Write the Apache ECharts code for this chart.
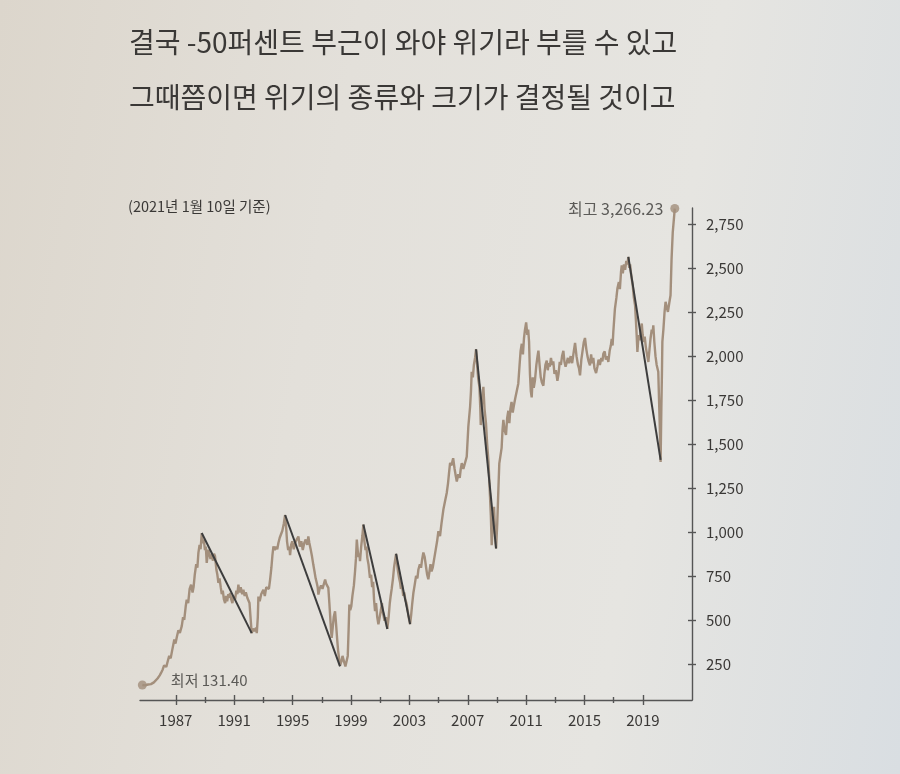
<!DOCTYPE html>
<html>
<head>
<meta charset="utf-8">
<script src="https://cdn.jsdelivr.net/npm/echarts@6/dist/echarts.min.js"></script>
<style>
  html, body { margin: 0; padding: 0; }
  body {
    width: 900px; height: 774px; overflow: hidden;
    background: linear-gradient(100deg, #dcd6cc 0%, #e3e0da 35%, #e6e5e1 70%, #d9dee2 100%);
  }
  #chart { width: 900px; height: 774px; }
</style>
</head>
<body>
<div id="chart"></div>
<script>
// KOSPI as drawn in the picture (decimal year, index value)
const years = [
  1984.71, 1984.9, 1985.1, 1985.3, 1985.5, 1985.6, 1985.75, 1985.9, 1986.0, 1986.1,
  1986.2, 1986.27, 1986.35, 1986.45, 1986.55, 1986.65, 1986.75, 1986.85, 1986.9, 1986.98,
  1987.08, 1987.18, 1987.28, 1987.41, 1987.5, 1987.58, 1987.68, 1987.75, 1987.85, 1987.95,
  1988.05, 1988.15, 1988.22, 1988.3, 1988.4, 1988.48, 1988.55, 1988.63, 1988.7, 1988.78,
  1988.85, 1988.92, 1989.0, 1989.06, 1989.12, 1989.18, 1989.23, 1989.3, 1989.38, 1989.45,
  1989.55, 1989.62, 1989.69, 1989.78, 1989.85, 1989.92, 1990.0, 1990.08, 1990.15, 1990.22,
  1990.3, 1990.38, 1990.45, 1990.52, 1990.6, 1990.65, 1990.72, 1990.8, 1990.88, 1990.95,
  1991.06, 1991.15, 1991.22, 1991.29, 1991.36, 1991.45, 1991.55, 1991.63, 1991.72, 1991.8,
  1991.9, 1991.97, 1992.05, 1992.12, 1992.2, 1992.3, 1992.4, 1992.5, 1992.55, 1992.62,
  1992.66, 1992.75, 1992.85, 1993.0, 1993.1, 1993.2, 1993.3, 1993.38, 1993.46, 1993.55,
  1993.62, 1993.69, 1993.78, 1993.86, 1993.95, 1994.03, 1994.12, 1994.2, 1994.3, 1994.4,
  1994.49, 1994.56, 1994.62, 1994.7, 1994.78, 1994.83, 1994.9, 1994.98, 1995.08, 1995.18,
  1995.28, 1995.4, 1995.5, 1995.6, 1995.7, 1995.8, 1995.9, 1996.0, 1996.08, 1996.15,
  1996.25, 1996.32, 1996.42, 1996.5, 1996.58, 1996.66, 1996.72, 1996.77, 1996.85, 1996.95,
  1997.05, 1997.15, 1997.23, 1997.3, 1997.38, 1997.45, 1997.52, 1997.58, 1997.63, 1997.68,
  1997.75, 1997.82, 1997.91, 1997.98, 1998.05, 1998.12, 1998.18, 1998.25, 1998.35, 1998.42,
  1998.48, 1998.55, 1998.62, 1998.71, 1998.78, 1998.84, 1998.89, 1998.95, 1999.02, 1999.1,
  1999.2, 1999.28, 1999.34, 1999.4, 1999.46, 1999.52, 1999.58, 1999.62, 1999.7, 1999.78,
  1999.85, 1999.92, 2000.0, 2000.06, 2000.12, 2000.2, 2000.3, 2000.38, 2000.45, 2000.52,
  2000.58, 2000.65, 2000.72, 2000.8, 2000.88, 2000.95, 2001.05, 2001.12, 2001.2, 2001.3,
  2001.4, 2001.49, 2001.58, 2001.66, 2001.72, 2001.79, 2001.88, 2001.95, 2002.02, 2002.09,
  2002.15, 2002.22, 2002.3, 2002.36, 2002.42, 2002.5, 2002.58, 2002.65, 2002.72, 2002.8,
  2002.88, 2002.95, 2003.05, 2003.12, 2003.2, 2003.28, 2003.36, 2003.46, 2003.55, 2003.62,
  2003.72, 2003.8, 2003.88, 2003.96, 2004.05, 2004.15, 2004.22, 2004.3, 2004.38, 2004.45,
  2004.52, 2004.6, 2004.7, 2004.8, 2004.9, 2004.99, 2005.1, 2005.2, 2005.33, 2005.45,
  2005.56, 2005.65, 2005.72, 2005.79, 2005.88, 2006.0, 2006.1, 2006.18, 2006.25, 2006.35,
  2006.45, 2006.52, 2006.59, 2006.7, 2006.82, 2006.93, 2007.04, 2007.16, 2007.22, 2007.27,
  2007.35, 2007.42, 2007.5, 2007.57, 2007.64, 2007.72, 2007.8, 2007.86, 2007.89, 2007.95,
  2008.02, 2008.07, 2008.15, 2008.25, 2008.33, 2008.42, 2008.5, 2008.58, 2008.64, 2008.72,
  2008.8, 2008.87, 2008.94, 2009.02, 2009.1, 2009.16, 2009.25, 2009.32, 2009.38, 2009.44,
  2009.52, 2009.62, 2009.7, 2009.78, 2009.85, 2009.92, 2010.0, 2010.08, 2010.16, 2010.25,
  2010.35, 2010.46, 2010.55, 2010.62, 2010.7, 2010.78, 2010.85, 2010.92, 2011.0, 2011.08,
  2011.14, 2011.2, 2011.26, 2011.32, 2011.38, 2011.45, 2011.52, 2011.6, 2011.7, 2011.78,
  2011.84, 2011.92, 2012.0, 2012.08, 2012.18, 2012.25, 2012.32, 2012.41, 2012.48, 2012.55,
  2012.62, 2012.7, 2012.78, 2012.86, 2012.94, 2013.04, 2013.14, 2013.22, 2013.3, 2013.38,
  2013.46, 2013.55, 2013.62, 2013.7, 2013.78, 2013.86, 2013.94, 2014.05, 2014.15, 2014.25,
  2014.35, 2014.45, 2014.55, 2014.62, 2014.69, 2014.78, 2014.88, 2014.95, 2015.03, 2015.12,
  2015.2, 2015.28, 2015.37, 2015.45, 2015.52, 2015.6, 2015.68, 2015.79, 2015.88, 2015.96,
  2016.05, 2016.15, 2016.22, 2016.29, 2016.38, 2016.46, 2016.55, 2016.63, 2016.72, 2016.8,
  2016.86, 2016.92, 2016.97, 2017.08, 2017.18, 2017.25, 2017.35, 2017.42, 2017.5, 2017.55,
  2017.62, 2017.7, 2017.78, 2017.86, 2017.94, 2018.0, 2018.06, 2018.12, 2018.18, 2018.23,
  2018.3, 2018.38, 2018.46, 2018.52, 2018.58, 2018.62, 2018.7, 2018.78, 2018.86, 2018.92,
  2018.98, 2019.05, 2019.12, 2019.2, 2019.28, 2019.37, 2019.45, 2019.52, 2019.6, 2019.66,
  2019.71, 2019.78, 2019.86, 2019.94, 2020.05, 2020.12, 2020.17, 2020.21, 2020.26, 2020.3,
  2020.33, 2020.4, 2020.48, 2020.55, 2020.62, 2020.71, 2020.8, 2020.89, 2020.96, 2021.04,
  2021.18
];
const values = [
  135, 133, 138, 140, 150, 159, 172, 190, 205, 222,
  246, 252, 238, 270, 300, 286, 330, 372, 393, 370,
  410, 445, 430, 469, 520, 505, 580, 619, 600, 680,
  704, 660, 690, 760, 820, 800, 884, 930, 905, 997,
  940, 960, 900, 920, 827, 870, 902, 880, 850, 875,
  840, 880, 865, 790, 760, 714, 740, 690, 650, 670,
  620, 600, 640, 610, 650, 630, 657, 620, 600, 640,
  619, 670, 650, 704, 660, 690, 650, 675, 640, 660,
  630, 619, 600, 520, 429, 455, 440, 460, 429, 520,
  637, 610, 650, 675, 640, 690, 700, 680, 731, 800,
  870, 921, 900, 920, 905, 940, 970, 960, 1010, 1050,
  1099, 1030, 950, 900, 920, 872, 930, 950, 905, 940,
  960, 977, 920, 950, 900, 940, 960, 930, 977, 940,
  900, 870, 818, 780, 740, 713, 690, 648, 680, 700,
  680, 710, 733, 710, 700, 686, 600, 520, 450, 402,
  460, 520, 553, 480, 400, 330, 290, 245, 270, 300,
  289, 260, 240, 232, 300, 450, 591, 560, 580, 640,
  700, 780, 850, 960, 900, 860, 880, 837, 920, 980,
  1045, 950, 900, 920, 856, 820, 743, 760, 690, 720,
  620, 554, 600, 520, 479, 510, 560, 600, 540, 500,
  520, 453, 520, 600, 640, 680, 740, 800, 840, 879,
  830, 780, 740, 718, 680, 700, 640, 660, 620, 600,
  560, 520, 480, 530, 600, 660, 700, 754, 740, 790,
  820, 800, 850, 886, 860, 800, 760, 735, 780, 820,
  780, 800, 850, 900, 950, 1007, 980, 1050, 1130, 1180,
  1224, 1280, 1340, 1395, 1380, 1421, 1360, 1320, 1289, 1330,
  1310, 1360, 1393, 1360, 1355, 1430, 1600, 1713, 1800, 1911,
  1880, 1950, 1990, 2039, 1950, 1870, 1826, 1700, 1609, 1720,
  1790, 1826, 1700, 1618, 1500, 1400, 1250, 1100, 928, 1050,
  1145, 1000, 909, 1050, 1250, 1390, 1380, 1480, 1580, 1638,
  1580, 1553, 1650, 1690, 1620, 1700, 1740, 1680, 1720, 1760,
  1800, 1844, 1950, 2030, 2070, 2010, 2100, 2150, 2191, 2120,
  2150, 2080, 1900, 1800, 1766, 1880, 1820, 1860, 1950, 2000,
  2031, 1950, 1880, 1850, 1832, 1900, 1950, 1974, 1920, 1960,
  1940, 1990, 1950, 1970, 1900, 1920, 1860, 1900, 1967, 1950,
  2000, 2030, 1970, 1940, 1929, 1990, 1960, 2000, 1960, 2020,
  2075, 2000, 1950, 1930, 1891, 1980, 2040, 2080, 2103, 2040,
  2000, 1970, 1948, 2010, 1960, 1990, 1930, 1904, 1940, 1980,
  1950, 1990, 1970, 2014, 2027, 1980, 2000, 1967, 2030, 2060,
  2098, 2060, 2137, 2268, 2330, 2383, 2420, 2380, 2480, 2515,
  2470, 2520, 2490, 2540, 2520, 2563, 2500, 2520, 2470, 2459,
  2400, 2330, 2288, 2200, 2100, 2024, 2120, 2090, 2150, 2185,
  2120, 2080, 2110, 2050, 2010, 1967, 2040, 2100, 2150, 2130,
  2175, 2080, 2000, 1950, 1911, 1700, 1550, 1400, 1700, 1900,
  2081, 2150, 2250, 2308, 2280, 2251, 2300, 2345, 2550, 2700,
  2837
];

// dark crash lines: peak -> trough
const crashPeaks = [[1988.78, 997], [1994.49, 1099], [1999.85, 1045], [2002.09, 879], [2007.57, 2039], [2018.0, 2563]];
const crashLows = [[1992.2, 429], [1998.25, 241], [2001.49, 453], [2003.05, 480], [2008.94, 909], [2020.21, 1412]];

const yearLabels = [1987, 1991, 1995, 1999, 2003, 2007, 2011, 2015, 2019];
const yearMinorTicks = [1989, 1993, 1997, 2001, 2005, 2009, 2013, 2017];
const valueTicks = [250, 500, 750, 1000, 1250, 1500, 1750, 2000, 2250, 2500, 2750];

const lowLabel = '최저 131.40';
const highLabel = '최고 3,266.23';

const FONT = '"Noto Sans CJK KR", "Noto Sans", sans-serif';
const INK = '#3a3836';
const LINE = '#a38f7c';

let chart = echarts.init(document.getElementById('chart'));

function xAxisDef(ticks, inside, len, withLine) {
    return {
        type: 'value', min: 1984.55, max: 2022.36, position: 'bottom',
        axisLine: { show: withLine, onZero: false, lineStyle: { color: '#555', width: 1.4 } },
        axisTick: { show: true, inside: inside, length: len, customValues: ticks,
            lineStyle: { color: '#555', width: 1.4 } },
        axisLabel: withLine ? {
            show: true, customValues: yearLabels, margin: 13,
            color: INK, fontFamily: FONT, fontSize: 15,
            formatter: v => String(v)
        } : { show: false },
        splitLine: { show: false }
    };
}

function yAxisDef(inside, withLine) {
    return {
        type: 'value', min: 50, max: 2840, position: 'right',
        axisLine: { show: withLine, onZero: false, lineStyle: { color: '#555', width: 1.4 } },
        axisTick: { show: true, inside: inside, length: 4, customValues: valueTicks,
            lineStyle: { color: '#555', width: 1.4 } },
        axisLabel: withLine ? {
            show: true, customValues: valueTicks, margin: 14,
            color: INK, fontFamily: FONT, fontSize: 15,
            formatter: v => v.toLocaleString('en-US')
        } : { show: false },
        splitLine: { show: false }
    };
}

let series = [{
    type: 'line',
    data: years.map((y, i) => [y, values[i]]),
    showSymbol: false,
    lineStyle: { color: LINE, width: 2.4 },
    z: 2
}];

crashPeaks.forEach((p, i) => {
    series.push({
        type: 'line',
        data: [p, crashLows[i]],
        showSymbol: false,
        lineStyle: { color: '#3d3d3d', width: 2 },
        z: 3
    });
});

series.push({
    type: 'scatter',
    data: [
        { value: [years[0], values[0]], label: { formatter: lowLabel, position: 'right', distance: 24, offset: [0, -5], fontSize: 15 } },
        { value: [years[years.length - 1], values[values.length - 1]], label: { formatter: highLabel, position: 'left', distance: 7, fontSize: 16 } }
    ],
    symbolSize: 9,
    itemStyle: { color: LINE },
    label: { show: true, color: INK, fontFamily: FONT },
    z: 4
});

chart.setOption({
    animation: false,
    title: {
        text: '결국 -50퍼센트 부근이 와야 위기라 부를 수 있고\n그때쯤이면 위기의 종류와 크기가 결정될 것이고',
        left: 124, top: 10,
        textStyle: { color: INK, fontFamily: FONT, fontSize: 28, fontWeight: 'normal', lineHeight: 55 }
    },
    graphic: [{
        type: 'text', left: 128, top: 199,
        style: { text: '(2021년 1월 10일 기준)', fill: INK, font: '14.5px ' + FONT }
    }],
    grid: { left: 140, right: 208, top: 208, bottom: 74 },
    xAxis: [
        xAxisDef(yearLabels, false, 5, true),
        xAxisDef(yearLabels, true, 5, false),
        xAxisDef(yearMinorTicks, false, 3, false),
        xAxisDef(yearMinorTicks, true, 3, false)
    ],
    yAxis: [
        yAxisDef(false, true),
        yAxisDef(true, false)
    ],
    series: series
});
</script>
</body>
</html>
